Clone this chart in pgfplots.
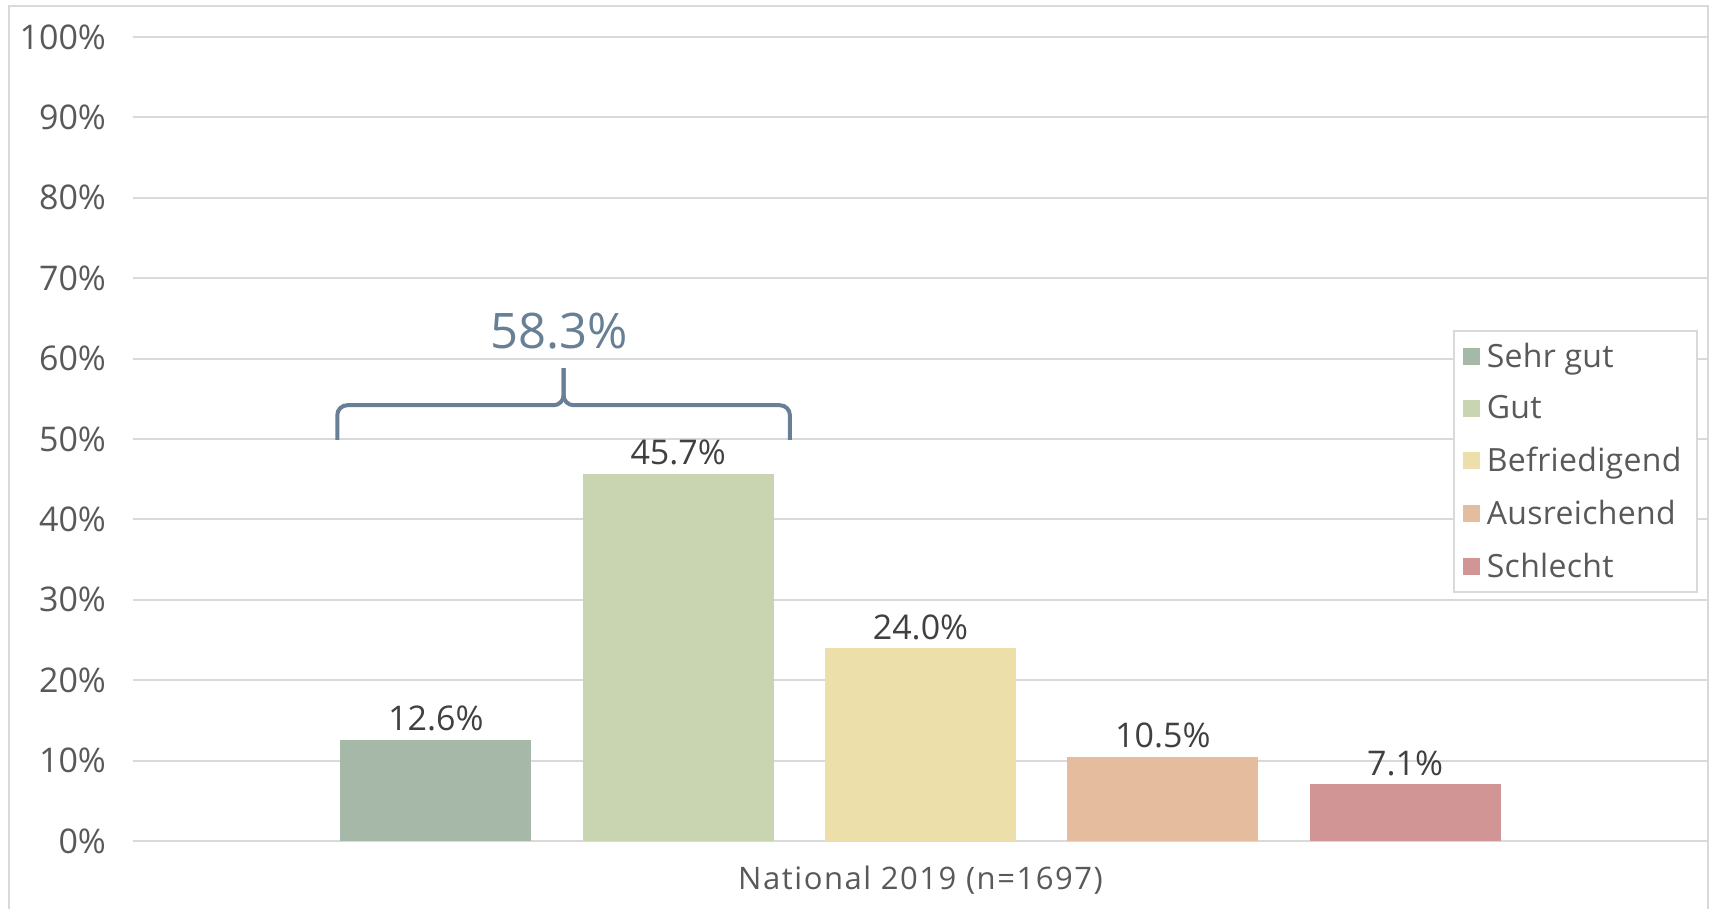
\documentclass[border=0pt]{standalone}
\usepackage{pgfplots}
\pgfplotsset{compat=1.18}
\usepackage{fontspec}
\setmainfont{Open Sans}
\definecolor{gridgray}{HTML}{D9D9D9}
\definecolor{ticktext}{HTML}{595959}
\definecolor{labeltext}{HTML}{404040}
\definecolor{cA}{HTML}{A6B8A8}
\definecolor{cB}{HTML}{C9D4B1}
\definecolor{cC}{HTML}{ECDFAA}
\definecolor{cD}{HTML}{E6BC9F}
\definecolor{cE}{HTML}{D09594}
\definecolor{brace}{HTML}{687F96}
\begin{document}
\begin{tikzpicture}
\useasboundingbox (0,0) rectangle (855pt,454.5pt);
\draw[gridgray, line width=1pt] (4.5pt,0) -- (4.5pt,451.5pt) -- (854pt,451.5pt) -- (854pt,0);
\begin{axis}[
  at={(66.5pt,34pt)}, anchor=south west,
  scale only axis, width=787.5pt, height=402pt,
  ymin=0, ymax=100, xmin=-1.25, xmax=5.25,
  ybar, bar width=95.5pt, bar shift=0pt,
  ytick={0,10,...,100},
  yticklabel={\pgfmathprintnumber{\tick}\%},
  /pgf/number format/assume math mode=true,
  yticklabel style={font=\fontsize{17pt}{20pt}\selectfont, text=ticktext, anchor=east, xshift=-10pt},
  ymajorgrids, grid style={draw=gridgray, line width=1pt},
  axis line style={draw=none},
  major tick length=0pt,
  xtick=\empty,
  xlabel={National 2019 (n=1697)},
  xlabel style={at={(axis description cs:0.5,0)}, anchor=base, yshift=-24.5pt, font=\fontsize{15.5pt}{18pt}\selectfont\addfontfeature{LetterSpace=5}, text=ticktext},
  clip=false,
  nodes near coords={\pgfmathprintnumber[fixed,fixed zerofill,precision=1]{\pgfplotspointmeta}\%},
  nodes near coords style={font=\fontsize{17pt}{20pt}\selectfont, text=labeltext, anchor=south, inner sep=0pt, yshift=4pt},
  legend image code/.code={\fill[#1, draw=none] (0pt,-4.25pt) rectangle (8.5pt,4.25pt);},
  legend style={at={(rel axis cs:0.838,0.6356)}, anchor=north west, draw=gridgray, line width=1pt, fill=white,
    font=\fontsize{16pt}{19pt}\selectfont\addfontfeature{LetterSpace=1}, text=ticktext, row sep=8.7pt, inner xsep=4.5pt, inner ysep=4pt,
    nodes={inner sep=2pt, inner xsep=3.5pt}},
  legend cell align=left,
]
\addplot[fill=cA, draw=none] coordinates {(0,12.6)};
\addplot[fill=cB, draw=none] coordinates {(1,45.7)};
\addplot[fill=cC, draw=none] coordinates {(2,24.0)};
\addplot[fill=cD, draw=none] coordinates {(3,10.5)};
\addplot[fill=cE, draw=none] coordinates {(4,7.1)};
\legend{Sehr gut, Gut, Befriedigend, Ausreichend, Schlecht}
\draw[brace, line width=2pt, rounded corners=5pt] (axis cs:-0.407,49.9) -- (axis cs:-0.407,54.2) -- (axis cs:0.527,54.2) -- (axis cs:0.527,58.8);
\draw[brace, line width=2pt, rounded corners=5pt] (axis cs:1.461,49.9) -- (axis cs:1.461,54.2) -- (axis cs:0.527,54.2) -- (axis cs:0.527,58.8);
\node[anchor=base, text=brace, font=\fontsize{24.5pt}{28pt}\selectfont, inner sep=0pt] at (axis cs:0.51,61.3) {58.3\%};
\end{axis}
\end{tikzpicture}
\end{document}
